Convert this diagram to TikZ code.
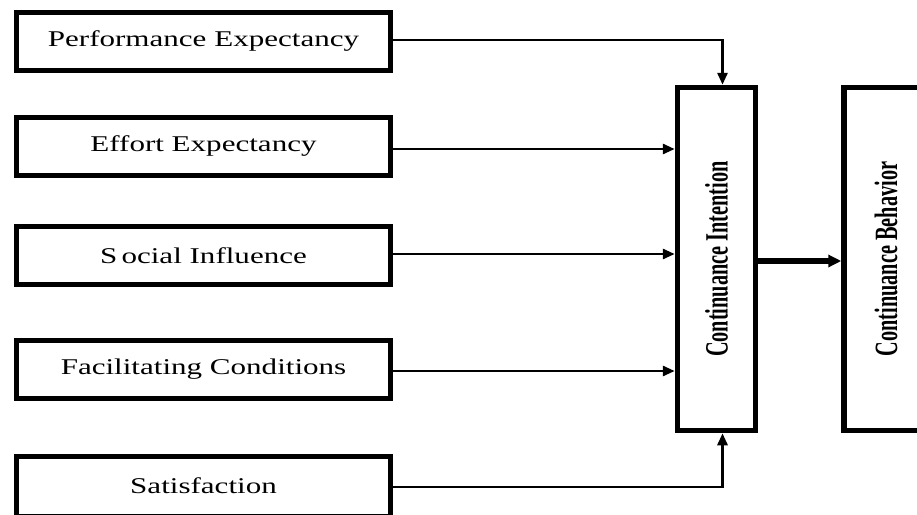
\documentclass[tikz,border=0pt]{standalone}
\usepackage{fontspec}
\setmainfont{Liberation Serif}
\usetikzlibrary{arrows.meta}
\tikzset{
  leftbox/.style={draw, line width=5pt, minimum width=374pt, minimum height=58pt, inner sep=0pt,
    font=\fontsize{22.5pt}{24pt}\selectfont},
  tallbox/.style={draw, line width=5.5pt, minimum width=78pt, minimum height=343pt, inner sep=0pt},
  conn/.style={line width=2.8pt, -{Triangle[length=12pt,width=10pt]}},
  thickconn/.style={line width=5.5pt, -{Triangle[length=13pt,width=12pt]}}
}
\newcommand{\htxt}[1]{\scalebox{1.38}[1]{#1}}
\newcommand{\vtxt}[1]{\rotatebox{90}{\scalebox{1}[1.6]{\fontsize{20.3pt}{22pt}\selectfont\bfseries #1}}}
\begin{document}
\begin{tikzpicture}[x=1pt,y=-1pt]
\useasboundingbox (0,0) rectangle (917,514);
\node[leftbox] (pe) at (203.5,41) {\htxt{Performance Expectancy}};
\node[leftbox] (ee) at (203.5,146) {\htxt{Effort Expectancy}};
\node[leftbox] (si) at (203.5,255.5) {\htxt{S\kern3pt ocial Influence}};
\node[leftbox] (fc) at (203.5,369.5) {\htxt{Facilitating Conditions}};
\node[leftbox, minimum height=60pt] (sa) at (203.5,486) {\htxt{Satisfaction}};
\node[tallbox] (ci) at (716.5,259) {\vtxt{Continuance Intention}};
\node[tallbox, minimum width=84pt] (cb) at (886,259) {\vtxt{Continuance Behavior}};
\coordinate (citop) at ([xshift=6pt]ci.north);
\coordinate (cibot) at ([xshift=6pt]ci.south);
\draw[conn] ([yshift=1pt]pe.east) -| (citop);
\draw[conn] ([yshift=-3pt]ee.east) -- ([yshift=-3pt]ee.east -| ci.west);
\draw[conn] ([yshift=1.5pt]si.east) -- ([yshift=1.5pt]si.east -| ci.west);
\draw[conn] ([yshift=-1.5pt]fc.east) -- ([yshift=-1.5pt]fc.east -| ci.west);
\draw[conn] ([yshift=-1pt]sa.east) -| (cibot);
\draw[thickconn] ([yshift=-2pt]ci.east) -- ([yshift=-2pt]cb.west);
\end{tikzpicture}
\end{document}
